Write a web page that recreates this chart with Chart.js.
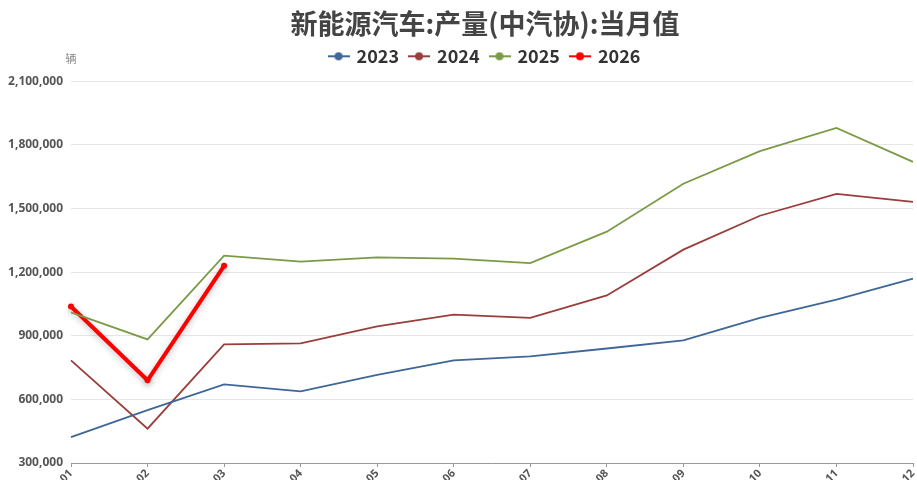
<!DOCTYPE html>
<html>
<head>
<meta charset="utf-8">
<script src="https://cdn.jsdelivr.net/npm/chart.js@4.4.1/dist/chart.umd.min.js"></script>
<style>
  html, body { margin: 0; padding: 0; background: #fff; }
  #wrap { width: 917px; height: 480px; position: relative; }
</style>
</head>
<body>
<div id="wrap"><canvas id="grafica"></canvas></div>
<script>
// datos (unidad: 辆)
const meses = ['01', '02', '03', '04', '05', '06', '07', '08', '09', '10', '11', '12'];
const valores2023 = [422000, 549000, 671000, 638000, 716000, 784000, 803000, 840000, 878000, 984000, 1071000, 1170000];
const valores2024 = [784000, 462000, 859000, 864000, 944000, 1000000, 984000, 1090000, 1306000, 1466000, 1569000, 1531000];
const valores2025 = [1010000, 883000, 1278000, 1250000, 1270000, 1264000, 1243000, 1391000, 1617000, 1771000, 1880000, 1720000];
const valores2026 = [1038000, 690000, 1230000];
const colores = ['#3e6797', '#9a3e3c', '#7b9a46', '#ff0000'];
const nombres = ['2023', '2024', '2025', '2026'];

function marcador(color) {
    const c = document.createElement('canvas');
    c.width = 22; c.height = 12;
    const g = c.getContext('2d');
    g.strokeStyle = color;
    g.lineWidth = 2;
    g.beginPath(); g.moveTo(0, 6); g.lineTo(22, 6); g.stroke();
    g.fillStyle = color;
    g.beginPath(); g.arc(11, 6, 4, 0, Math.PI * 2); g.fill();
    return c;
}

const etiquetaUnidad = {
    id: 'etiquetaUnidad',
    afterDraw(chart) {
        const ctx = chart.ctx;
        ctx.save();
        ctx.font = '11px "Noto Sans CJK SC"';
        ctx.fillStyle = '#888';
        ctx.textAlign = 'center';
        ctx.textBaseline = 'middle';
        ctx.fillText('辆', chart.chartArea.left, chart.chartArea.top - 22);
        ctx.restore();
    }
};

// titulo y leyenda centrados un poco a la derecha, como en el original
const desplazar = {
    id: 'desplazar',
    afterLayout(chart) {
        const dx = 27;
        [chart.titleBlock, chart.legend].forEach(b => {
            if (b) { b.left += dx; b.right += dx; }
        });
    }
};

const sombra = {
    id: 'sombra',
    beforeDatasetDraw(chart, args) {
        if (args.index === 3) {
            chart.ctx.save();
            chart.ctx.shadowColor = 'rgba(0,0,0,0.25)';
            chart.ctx.shadowBlur = 6;
            chart.ctx.shadowOffsetY = 2;
        }
    },
    afterDatasetDraw(chart, args) {
        if (args.index === 3) chart.ctx.restore();
    }
};

const series = [valores2023, valores2024, valores2025, valores2026];
const ctx = document.getElementById('grafica').getContext('2d');
let ch = new Chart(ctx, {
    type: 'line',
    data: {
        labels: meses,
        datasets: series.map((d, i) => ({
            label: nombres[i],
            data: d,
            borderColor: colores[i],
            backgroundColor: colores[i],
            borderWidth: i === 3 ? 4 : 1.8,
            pointRadius: i === 3 ? 3 : 0,
            pointBorderWidth: 0,
            pointHoverRadius: 4,
            tension: 0,
            fill: false
        }))
    },
    options: {
        responsive: true,
        maintainAspectRatio: false,
        animation: false,
        layout: { padding: { left: 0, right: 1, top: 7, bottom: 0 } },
        plugins: {
            title: {
                display: true,
                text: '新能源汽车:产量(中汽协):当月值',
                color: '#444',
                font: { family: '"Noto Sans CJK SC"', size: 27, weight: 'bold', lineHeight: 0.9 },
                padding: { top: 5, bottom: 0 }
            },
            // hueco vacio entre leyenda y grafica
            subtitle: {
                display: true,
                text: '',
                weight: 500,
                font: { size: 1, lineHeight: 1 },
                padding: { top: 5, bottom: 0 }
            },
            legend: {
                labels: {
                    usePointStyle: true,
                    pointStyleWidth: 18,
                    padding: 11,
                    color: '#333',
                    font: { family: '"Noto Sans CJK SC"', size: 18, weight: 'bold' },
                    generateLabels: function(chart) {
                        return chart.data.datasets.map((ds, i) => ({
                            text: ds.label,
                            fillStyle: colores[i],
                            strokeStyle: colores[i],
                            fontColor: '#333',
                            pointStyle: marcador(colores[i]),
                            lineWidth: 0,
                            datasetIndex: i,
                            hidden: !chart.isDatasetVisible(i)
                        }));
                    }
                }
            },
            tooltip: { enabled: false }
        },
        scales: {
            y: {
                min: 300000,
                max: 2100000,
                ticks: {
                    stepSize: 300000,
                    padding: 8,
                    color: '#555',
                    font: { family: '"Noto Sans"', size: 12, weight: 'bold' },
                    callback: function(value) {
                        return Number(value).toLocaleString('en-US');
                    }
                },
                grid: { color: '#e6e6e6', drawTicks: false },
                border: { display: false },
                afterFit: function(scale) { scale.width = 71; }
            },
            x: {
                ticks: {
                    minRotation: 45,
                    maxRotation: 45,
                    padding: 0,
                    color: '#555',
                    font: { family: '"Noto Sans"', size: 11, weight: 'bold' }
                },
                grid: { drawOnChartArea: false, tickLength: 4, color: '#999' },
                border: { color: '#999' },
                afterFit: function(scale) {
                    scale.height = 17;
                    scale.paddingLeft = 0;
                    scale.paddingRight = 0;
                }
            }
        }
    },
    plugins: [etiquetaUnidad, desplazar, sombra]
});
</script>
</body>
</html>
